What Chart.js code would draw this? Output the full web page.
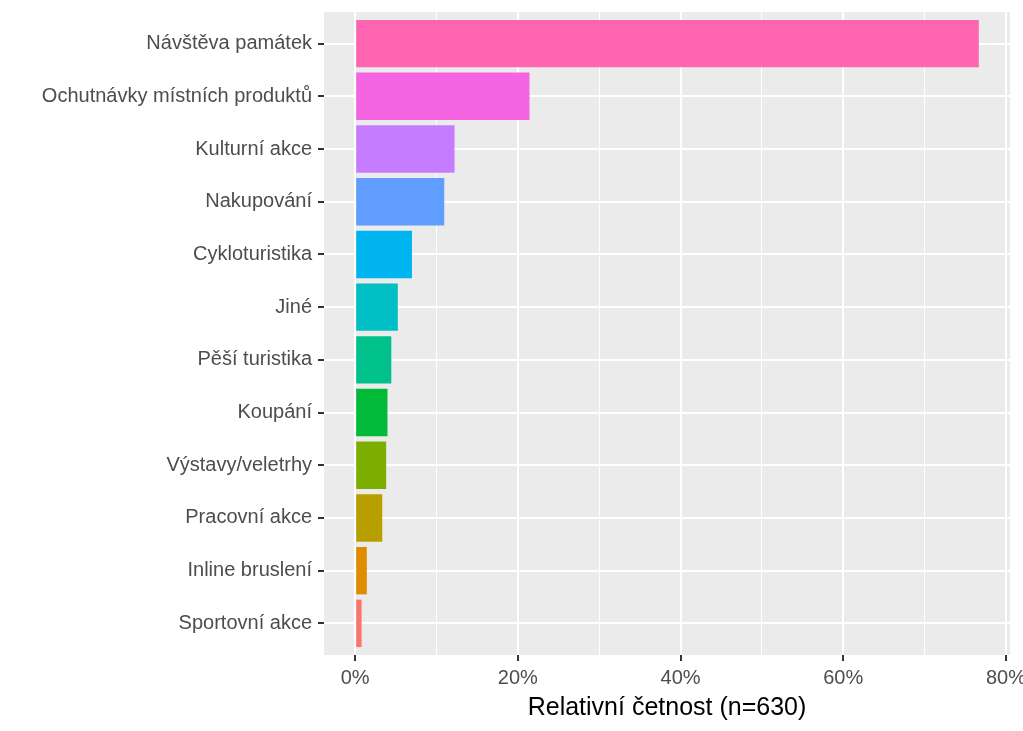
<!DOCTYPE html>
<html>
<head>
<meta charset="utf-8">
<script src="https://cdn.jsdelivr.net/npm/chart.js@4"></script>
<style>
  html, body { margin: 0; padding: 0; background: #fff; }
  #wrap { width: 1023px; height: 731px; }
</style>
</head>
<body>
<div id="wrap"><canvas id="graf"></canvas></div>
<script>
// kategorie odshora dolu
const kategorie = [
  'Návštěva památek',
  'Ochutnávky místních produktů',
  'Kulturní akce',
  'Nakupování',
  'Cykloturistika',
  'Jiné',
  'Pěší turistika',
  'Koupání',
  'Výstavy/veletrhy',
  'Pracovní akce',
  'Inline bruslení',
  'Sportovní akce'
];
// relativni cetnost v %
const hodnoty = [76.67, 21.43, 12.22, 10.95, 6.98, 5.24, 4.44, 3.97, 3.81, 3.33, 1.43, 0.79];
const barvy = ['#FF64B0', '#F564E3', '#C77CFF', '#619CFF', '#00B4F0', '#00BFC4',
               '#00C08B', '#00BA38', '#7CAE00', '#B79F00', '#DE8C00', '#F8766D'];
const xTicky = [0, 10, 20, 30, 40, 50, 60, 70, 80];
const xMax = Math.max(...hodnoty);

const pozadiPanelu = {
  id: 'pozadiPanelu',
  beforeDraw(chart) {
    const a = chart.chartArea;
    const c = chart.ctx;
    c.save();
    c.fillStyle = '#EBEBEB';
    c.fillRect(a.left, a.top, a.right - a.left, a.bottom - a.top);
    c.restore();
  }
};

const jeHlavni = v => v % 20 === 0;

new Chart(document.getElementById('graf'), {
  type: 'bar',
  data: {
    datasets: [{
      data: hodnoty.map((v, i) => ({ x: v, y: i })),
      backgroundColor: barvy,
      borderWidth: 0,
      barPercentage: 0.9,
      categoryPercentage: 1
    }]
  },
  options: {
    indexAxis: 'y',
    responsive: true,
    maintainAspectRatio: false,
    animation: false,
    layout: { padding: { top: 12, right: 13, left: 0, bottom: 0 } },
    plugins: { legend: { display: false }, tooltip: { enabled: false } },
    scales: {
      x: {
        type: 'linear',
        min: -xMax * 0.05,
        max: xMax * 1.05,
        afterBuildTicks: s => { s.ticks = xTicky.map(v => ({ value: v })); },
        afterFit: s => { s.height = 76; s.paddingLeft = 0; s.paddingRight = 0; },
        border: { display: false },
        grid: {
          color: '#FFFFFF',
          lineWidth: c => jeHlavni(c.tick.value) ? 2 : 1,
          tickLength: 6,
          tickColor: c => jeHlavni(c.tick.value) ? '#333333' : 'rgba(0,0,0,0)',
          tickWidth: 2
        },
        ticks: {
          callback: v => jeHlavni(v) ? v + '%' : '',
          color: '#4D4D4D',
          font: { family: 'Liberation Sans', size: 20 },
          padding: 5,
          maxRotation: 0,
          autoSkip: false
        },
        title: {
          display: true,
          text: 'Relativní četnost (n=630)',
          color: '#000000',
          font: { family: 'Liberation Sans', size: 25 },
          padding: { top: 0, bottom: 8 }
        }
      },
      y: {
        type: 'linear',
        reverse: true,
        offset: false,
        min: -0.6,
        max: kategorie.length - 1 + 0.6,
        afterBuildTicks: s => { s.ticks = kategorie.map((_, i) => ({ value: i })); },
        afterFit: s => { s.width = 324; s.paddingTop = 0; s.paddingBottom = 0; },
        border: { display: false },
        grid: {
          offset: false,
          color: '#FFFFFF',
          lineWidth: 2,
          tickLength: 6,
          tickColor: '#333333',
          tickWidth: 2
        },
        ticks: {
          callback: v => kategorie[v],
          color: '#4D4D4D',
          font: { family: 'Liberation Sans', size: 20 },
          padding: 6,
          autoSkip: false
        }
      }
    }
  },
  plugins: [pozadiPanelu]
});
</script>
</body>
</html>
